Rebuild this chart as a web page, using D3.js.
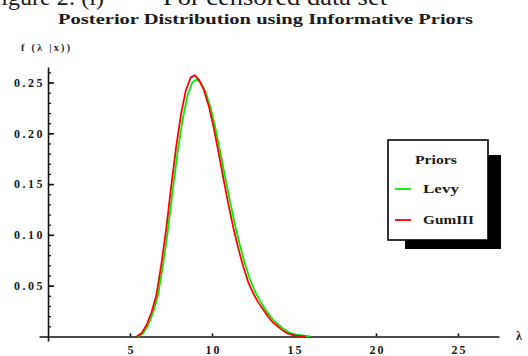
<!DOCTYPE html>
<html>
<head>
<meta charset="utf-8">
<script src="https://cdn.jsdelivr.net/npm/d3@7"></script>
<style>
  body { margin: 0; background: #fff; }
  svg { display: block; }
  text { font-family: "Liberation Serif", "DejaVu Serif", serif; fill: #1a1a1a; }
</style>
</head>
<body>
<svg id="chart"></svg>
<script>
// values
const levyLambda = [5.5, 5.8, 6.1, 6.4, 6.7, 7.0, 7.3, 7.6, 7.9, 8.2, 8.5, 8.8, 9.05, 9.3, 9.6, 9.9, 10.2, 10.5, 10.8, 11.1, 11.4, 11.7, 12.0, 12.3, 12.6, 12.9, 13.2, 13.5, 13.8, 14.1, 14.4, 14.7, 15.0, 15.5, 16.0];
const levyDensity = [0, 0.003, 0.011, 0.023, 0.040, 0.069, 0.103, 0.143, 0.181, 0.213, 0.237, 0.250, 0.253, 0.250, 0.241, 0.226, 0.206, 0.182, 0.157, 0.133, 0.110, 0.090, 0.072, 0.057, 0.045, 0.036, 0.028, 0.021, 0.015, 0.011, 0.007, 0.004, 0.002, 0.001, 0];
const gumLambda = [5.4, 5.7, 6.0, 6.3, 6.6, 6.9, 7.2, 7.5, 7.8, 8.1, 8.4, 8.7, 8.95, 9.2, 9.5, 9.8, 10.1, 10.4, 10.7, 11.0, 11.3, 11.6, 11.9, 12.2, 12.5, 12.8, 13.1, 13.4, 13.7, 14.0, 14.3, 14.6, 15.0, 15.7];
const gumDensity = [0, 0.003, 0.011, 0.023, 0.040, 0.070, 0.105, 0.146, 0.185, 0.218, 0.242, 0.255, 0.257, 0.253, 0.243, 0.227, 0.206, 0.181, 0.155, 0.130, 0.107, 0.087, 0.069, 0.054, 0.043, 0.034, 0.027, 0.020, 0.014, 0.010, 0.006, 0.003, 0.001, 0];

const xTicks = [5, 10, 15, 20, 25];
const yTicks = [0.05, 0.10, 0.15, 0.20, 0.25];
const yMinorTicks = d3.range(1, 27).map(i => i / 100);
const seriesNames = ["Levy", "GumIII"];
const seriesColors = ["#00ee00", "#ff0000"];

const W = 528, H = 356;
const svg = d3.select("#chart").attr("width", W).attr("height", H);

// caption of the page above the figure, cropped at the top like the scan
svg.append("text")
  .attr("x", 104).attr("y", 5).attr("text-anchor", "end")
  .style("font-size", "24px")
  .text("Figure 2: (i)");
svg.append("text")
  .attr("x", 163).attr("y", 5)
  .attr("textLength", 224).attr("lengthAdjust", "spacingAndGlyphs")
  .style("font-size", "24px")
  .text("For censored data set");

svg.append("text")
  .attr("x", 58).attr("y", 24)
  .attr("textLength", 415).attr("lengthAdjust", "spacingAndGlyphs")
  .style("font-size", "15px").style("font-weight", "bold")
  .text("Posterior Distribution using Informative Priors");

const x = d3.scaleLinear().domain([-0.55, 27.5]).range([39, 499]);
const y = d3.scaleLinear().domain([-0.0045, 0.2653]).range([341, 67]);

// x axis
const xAxis = svg.append("g")
  .attr("transform", `translate(0,${y(0)})`)
  .call(d3.axisBottom(x).tickValues(xTicks).tickSizeInner(-3).tickSizeOuter(0).tickPadding(9).tickFormat(d3.format("d")));
xAxis.select(".domain").attr("stroke", "#111").attr("stroke-width", 1.6);
xAxis.selectAll(".tick line").attr("stroke", "#111").attr("stroke-width", 1.6);
xAxis.selectAll("text").attr("font-family", null).style("font-size", "12px").style("font-weight", "bold")
  .attr("fill", "#1a1a1a").attr("letter-spacing", "2px").attr("dx", "1px");

// y axis, minor ticks first
svg.append("g")
  .attr("transform", `translate(${x(0)},0)`)
  .call(d3.axisLeft(y).tickValues(yMinorTicks).tickSize(-3).tickFormat(""))
  .call(g => g.select(".domain").remove())
  .selectAll(".tick line").attr("stroke", "#111").attr("stroke-width", 1.3);

const yAxis = svg.append("g")
  .attr("transform", `translate(${x(0)},0)`)
  .call(d3.axisLeft(y).tickValues(yTicks).tickSizeInner(-6).tickSizeOuter(0).tickPadding(3).tickFormat(d3.format(".2f")));
yAxis.select(".domain").attr("stroke", "#111").attr("stroke-width", 1.6);
yAxis.selectAll(".tick line").attr("stroke", "#111").attr("stroke-width", 1.6);
yAxis.selectAll("text").attr("font-family", null).style("font-size", "12px").style("font-weight", "bold")
  .attr("fill", "#1a1a1a").attr("letter-spacing", "2.5px");

// axis labels
svg.append("text")
  .attr("x", 21).attr("y", 51)
  .attr("textLength", 49).attr("lengthAdjust", "spacing")
  .style("font-size", "10px").style("font-weight", "bold")
  .text("f (λ |x))");

svg.append("text")
  .attr("x", 516).attr("y", 340)
  .style("font-size", "12px").style("font-weight", "bold")
  .text("λ");

// curves
const line = d3.line().x(d => x(d[0])).y(d => y(d[1]));
const curves = [d3.zip(levyLambda, levyDensity), d3.zip(gumLambda, gumDensity)];
curves.forEach((pts, i) => {
  svg.append("path")
    .datum(pts)
    .attr("fill", "none")
    .attr("stroke", seriesColors[i])
    .attr("stroke-width", 1.8)
    .attr("d", line);
});

// legend with drop shadow
const legend = svg.append("g").attr("transform", "translate(388,140)");
legend.append("rect").attr("x", 17).attr("y", 15).attr("width", 96).attr("height", 94).attr("fill", "#000");
legend.append("rect").attr("x", 0).attr("y", 0).attr("width", 100).attr("height", 100)
  .attr("fill", "#fff").attr("stroke", "#000").attr("stroke-width", 1.6);
legend.append("text")
  .attr("x", 27).attr("y", 24)
  .attr("textLength", 42).attr("lengthAdjust", "spacingAndGlyphs")
  .style("font-size", "12px").style("font-weight", "bold")
  .text("Priors");
const legendWidths = [36, 51];
seriesNames.forEach((name, i) => {
  const cy = 49 + i * 31;
  legend.append("line")
    .attr("x1", 7).attr("x2", 23).attr("y1", cy).attr("y2", cy)
    .attr("stroke", seriesColors[i]).attr("stroke-width", 1.8);
  legend.append("text")
    .attr("x", 35).attr("y", cy + 4)
    .attr("textLength", legendWidths[i]).attr("lengthAdjust", "spacingAndGlyphs")
    .style("font-size", "12px").style("font-weight", "bold")
    .text(name);
});
</script>
</body>
</html>
